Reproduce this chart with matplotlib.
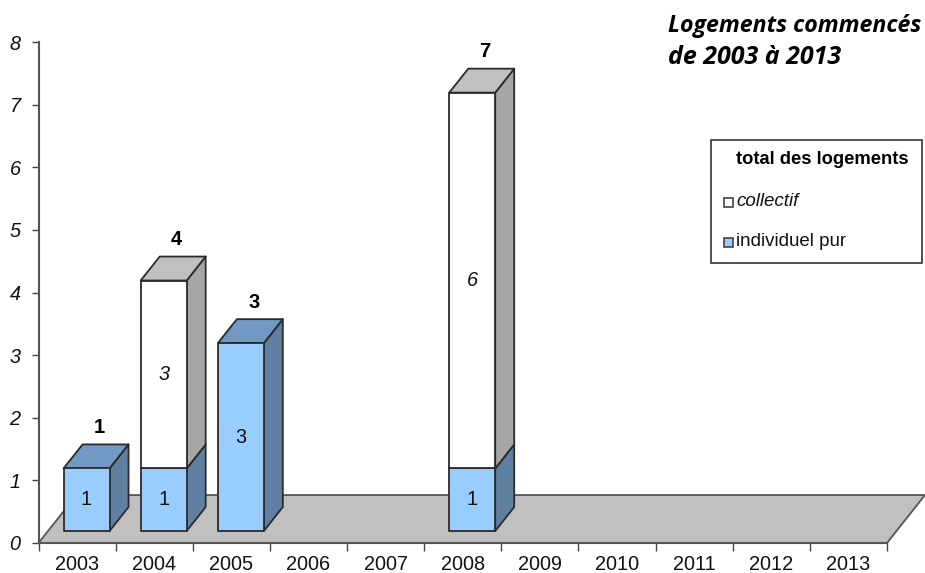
import matplotlib
matplotlib.use('Agg')
import matplotlib.pyplot as plt
from matplotlib.patches import Polygon, Rectangle

years = ['2003', '2004', '2005', '2006', '2007', '2008', '2009', '2010', '2011', '2012', '2013']
individuel = [1, 1, 3, 0, 0, 1, 0, 0, 0, 0, 0]
collectif = [0, 3, 0, 0, 0, 6, 0, 0, 0, 0, 0]
totals = [1, 4, 3, 0, 0, 7, 0, 0, 0, 0, 0]

W, H = 925, 573
# depth of the floor, in data units
DEPTH_X = 38 / 77.2
DEPTH_Y = 48 / 62.7
BAR_W = 0.596
EDGE = '#2b2b2b'
TXT = '#111111'

plt.rcParams['font.family'] = ['Liberation Sans', 'DejaVu Sans']

fig = plt.figure(figsize=(W / 100, H / 100), dpi=100, facecolor='white')
ax = fig.add_axes([38.5 / W, (H - 543) / H, (887 - 38.5) / W, (543 - 42) / H])
ax.set_xlim(0, 11)
ax.set_ylim(0, 8)


def proj(x, y, d):
    return x + d * DEPTH_X, y + d * DEPTH_Y


def face(points, color, z):
    ax.add_patch(Polygon(points, closed=True, facecolor=color, edgecolor=EDGE,
                         linewidth=1.3, joinstyle='round', clip_on=False, zorder=z))


def box(x0, y0, y1, front, side, top, z):
    x1 = x0 + BAR_W
    face([proj(x1, y0, .25), proj(x1, y0, .75), proj(x1, y1, .75), proj(x1, y1, .25)], side, z)
    face([proj(x0, y1, .25), proj(x1, y1, .25), proj(x1, y1, .75), proj(x0, y1, .75)], top, z)
    face([proj(x0, y0, .25), proj(x1, y0, .25), proj(x1, y1, .25), proj(x0, y1, .25)], front, z)


# floor
ax.add_patch(Polygon([proj(0, 0, 0), proj(11, 0, 0), proj(11, 0, 1), proj(0, 0, 1)], closed=True,
                     facecolor='#C0C0C0', edgecolor='#555555', linewidth=1.3, clip_on=False, zorder=1))

for i in range(len(years)):
    x0 = i + (1 - BAR_W) / 2
    xc = x0 + BAR_W / 2
    if individuel[i] > 0:
        box(x0, 0, individuel[i], '#99CCFF', '#5F7FA3', '#7199C4', 3 + i * 0.01)
        xt, yt = proj(xc, individuel[i] / 2, .25)
        ax.text(xt, yt, str(individuel[i]), ha='center', va='center', fontsize=14.3,
                color=TXT, zorder=6)
    if collectif[i] > 0:
        box(x0, individuel[i], individuel[i] + collectif[i], 'white', '#A6A6A6', '#C0C0C0', 4 + i * 0.01)
        xt, yt = proj(xc, individuel[i] + collectif[i] / 2, .25)
        ax.text(xt, yt, str(collectif[i]), ha='center', va='center', fontsize=14.3,
                style='italic', color=TXT, zorder=6)
    if totals[i] > 0:
        xt, yt = proj(xc, totals[i], .75)
        ax.text(xt - 0.08, yt + 0.27, str(totals[i]), ha='center', va='center', fontsize=14.5,
                fontweight='bold', color='black', zorder=6)

# axes
for s in ['top', 'right']:
    ax.spines[s].set_visible(False)
for s in ['left', 'bottom']:
    ax.spines[s].set_color('#555555')
    ax.spines[s].set_linewidth(1.5)
    ax.spines[s].set_zorder(2)
ax.set_xticks(range(12))
ax.set_xticklabels([])
ax.set_xticks([i + .5 for i in range(11)], minor=True)
ax.set_xticklabels(years, minor=True, fontsize=14.3, color=TXT)
ax.tick_params(axis='x', which='major', length=6, width=1, color='#444444', direction='out')
ax.tick_params(axis='x', which='minor', length=0, pad=9)
ax.set_yticks(range(9))
ax.set_yticklabels([str(v) for v in range(9)], fontsize=14.3, style='italic', color=TXT)
ax.tick_params(axis='y', length=5, width=1, color='#444444', direction='out', pad=8)
ax.patch.set_alpha(0)

# title
fig.text(668 / W, 1 - 26 / H, 'Logements commencés', fontsize=16.7, fontweight='bold', style='italic',
         family=['Open Sans', 'DejaVu Sans'], ha='left', va='center', color='black')
fig.text(668 / W, 1 - 58 / H, 'de 2003 à 2013', fontsize=18, fontweight='bold', style='italic',
         family=['Open Sans', 'DejaVu Sans'], ha='left', va='center', color='black')

# legend box
fig.add_artist(Rectangle((710.5 / W, 1 - 263 / H), 211 / W, 123 / H, transform=fig.transFigure,
                         facecolor='white', edgecolor='#333333', linewidth=1.2))
fig.text(736 / W, 1 - 160 / H, 'total des logements', fontsize=13.2, fontweight='bold',
         ha='left', va='center', color='black')
fig.add_artist(Rectangle((723.5 / W, 1 - 206.5 / H), 9 / W, 9 / H, transform=fig.transFigure,
                         facecolor='white', edgecolor='#444444', linewidth=1.2))
fig.text(736 / W, 1 - 201 / H, 'collectif', fontsize=13.5, style='italic', ha='left', va='center', color=TXT)
fig.add_artist(Rectangle((723.5 / W, 1 - 246.5 / H), 9 / W, 9 / H, transform=fig.transFigure,
                         facecolor='#99CCFF', edgecolor='#444444', linewidth=1.2))
fig.text(736 / W, 1 - 242 / H, 'individuel pur', fontsize=13.5, ha='left', va='center', color=TXT)

fig.savefig('out.png', dpi=100)
